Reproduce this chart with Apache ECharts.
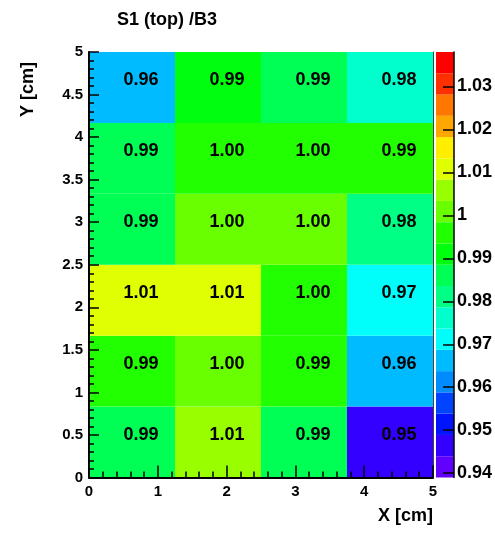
<!DOCTYPE html>
<html><head><meta charset="utf-8">
<script src="https://cdn.jsdelivr.net/npm/echarts@6/dist/echarts.min.js"></script>
<style>html,body{margin:0;padding:0;background:#fff}#c{width:495px;height:534px}</style>
</head><body><div id="c"></div>
<script>
// bin edges
const xEdges = [0, 1.25, 2.5, 3.75, 5];
const yEdges = [0, 0.83333, 1.66667, 2.5, 3.33333, 4.16667, 5];
// cell values, rows from bottom (y) to top, columns left to right (x)
const row0 = [0.987, 1.006, 0.987, 0.947];
const row1 = [0.994, 1.001, 0.994, 0.9644];
const row2 = [1.011, 1.011, 0.997, 0.971];
const row3 = [0.987, 1.001, 1.001, 0.981];
const row4 = [0.987, 0.997, 0.997, 0.994];
const row5 = [0.9644, 0.991, 0.987, 0.977];
const rows = [row0, row1, row2, row3, row4, row5];
// z scale
const zMin = 0.939, zMax = 1.038, nLevels = 20;
const paletteColors = ['#6200ff','#3300ff','#0014ff','#0044ff','#008bff','#00bbff','#00fffb','#00ffcc','#00ff85','#00ff55',
  '#00ff0e','#22ff00','#69ff00','#99ff00','#e0ff00','#ffee00','#ffa700','#ff7700','#ff3000','#ff0000'];
const zTickLabels = ['0.94','0.95','0.96','0.97','0.98','0.99','1','1.01','1.02','1.03'];
const xTickLabelsStep = 1, yTickLabelsStep = 0.5;

const zStep = (zMax - zMin) / nLevels;
function colorOf(v) {
  let k = Math.floor((v - zMin) / zStep);
  k = Math.max(0, Math.min(nLevels - 1, k));
  return paletteColors[k];
}
const cellData = [];
rows.forEach((r, ri) => r.forEach((v, ci) => cellData.push([ci, ri, v])));
const levelData = paletteColors.map((c, i) => [0.5, zMin + (i + 0.5) * zStep, i]);

const FONT = '"Liberation Sans", Arial, Helvetica, sans-serif';
const chart = echarts.init(document.getElementById('c'), null, {renderer: 'canvas'});
chart.setOption({
  animation: false,
  backgroundColor: '#fff',
  title: {
    text: 'S1 (top) /B3', left: 112, top: 6,
    textStyle: {fontFamily: FONT, fontWeight: 'bold', fontSize: 18, color: '#000'}
  },
  grid: [
    {left: 89, right: 62, top: 52, bottom: 56.5, containLabel: false},
    {left: 436, width: 22, top: 52, bottom: 56.5, containLabel: false}
  ],
  xAxis: [
    {
      type: 'value', gridIndex: 0, min: 0, max: 5, interval: xTickLabelsStep, z: 10,
      name: 'X [cm]', nameLocation: 'end', nameGap: 0,
      nameTextStyle: {fontFamily: FONT, fontWeight: 'bold', fontSize: 18, color: '#000', align: 'right', verticalAlign: 'top', padding: [30, 0, 0, 0]},
      axisLine: {show: true, onZero: false, lineStyle: {color: '#000', width: 2}},
      axisTick: {show: true, inside: true, length: 12, lineStyle: {color: '#000', width: 1.5}},
      minorTick: {show: true, splitNumber: 5, length: 6, lineStyle: {color: '#000', width: 1.5}},
      axisLabel: {fontFamily: FONT, fontWeight: 'bold', fontSize: 15, color: '#000', margin: 7},
      splitLine: {show: false}, minorSplitLine: {show: false}
    },
    {type: 'value', gridIndex: 1, min: 0, max: 1, show: false}
  ],
  yAxis: [
    {
      type: 'value', gridIndex: 0, min: 0, max: 5, interval: yTickLabelsStep, z: 10,
      name: 'Y [cm]', nameLocation: 'end', nameGap: -10, nameRotate: 90,
      nameTextStyle: {fontFamily: FONT, fontWeight: 'bold', fontSize: 18, color: '#000', align: 'right', verticalAlign: 'bottom', padding: [0, 0, 52, 0]},
      axisLine: {show: true, onZero: false, lineStyle: {color: '#000', width: 2}},
      axisTick: {show: true, inside: true, length: 10, lineStyle: {color: '#000', width: 1.5}},
      minorTick: {show: true, splitNumber: 5, length: 5, lineStyle: {color: '#000', width: 1.5}},
      axisLabel: {fontFamily: FONT, fontWeight: 'bold', fontSize: 15, color: '#000', margin: 6},
      splitLine: {show: false}, minorSplitLine: {show: false}
    },
    {
      type: 'value', gridIndex: 0, min: 0, max: 5, position: 'right', z: 10,
      axisLine: {show: true, onZero: false, lineStyle: {color: '#444', width: 1}},
      axisTick: {show: false}, axisLabel: {show: false}, splitLine: {show: false}
    },
    {
      type: 'value', gridIndex: 1, min: zMin, max: zMax, position: 'right', z: 10,
      axisLine: {show: true, onZero: false, lineStyle: {color: '#000', width: 1.5}},
      axisTick: {show: true, inside: true, length: 11, customValues: zTickLabels.map(Number), lineStyle: {color: '#000', width: 1.5}},
      axisLabel: {show: true, customValues: zTickLabels.map(Number), fontFamily: FONT, fontWeight: 'bold', fontSize: 18, color: '#000', margin: 3,
        formatter: v => String(+(+v).toFixed(2))},
      splitLine: {show: false}
    }
  ],
  series: [
    {
      type: 'custom', xAxisIndex: 0, yAxisIndex: 0, z: 2,
      data: cellData,
      encode: {x: 0, y: 1},
      renderItem: function (params, api) {
        const c = api.value(0), r = api.value(1), v = api.value(2);
        const p0 = api.coord([xEdges[c], yEdges[r]]);
        const p1 = api.coord([xEdges[c + 1], yEdges[r + 1]]);
        return {
          type: 'group',
          children: [
            {type: 'rect', shape: {x: p0[0], y: p1[1], width: p1[0] - p0[0], height: p0[1] - p1[1]},
              style: {fill: colorOf(v), stroke: null}},
            {type: 'text', x: (p0[0] + p1[0]) / 2 + 9, y: (p0[1] + p1[1]) / 2 - 7, z2: 10,
              style: {text: v.toFixed(2), fill: '#000', font: 'bold 18px ' + FONT, align: 'center', verticalAlign: 'middle'}}
          ]
        };
      }
    },
    {
      type: 'custom', xAxisIndex: 1, yAxisIndex: 2, z: 2,
      data: levelData,
      encode: {x: 0, y: 1},
      renderItem: function (params, api) {
        const i = api.value(2);
        const lo = zMin + i * zStep, hi = lo + zStep;
        const p0 = api.coord([0, lo]);
        const p1 = api.coord([1, hi]);
        return {type: 'rect', shape: {x: p0[0], y: p1[1], width: p1[0] - p0[0], height: p0[1] - p1[1]},
          style: {fill: paletteColors[i], stroke: null}};
      }
    }
  ]
});
</script>
</body></html>
